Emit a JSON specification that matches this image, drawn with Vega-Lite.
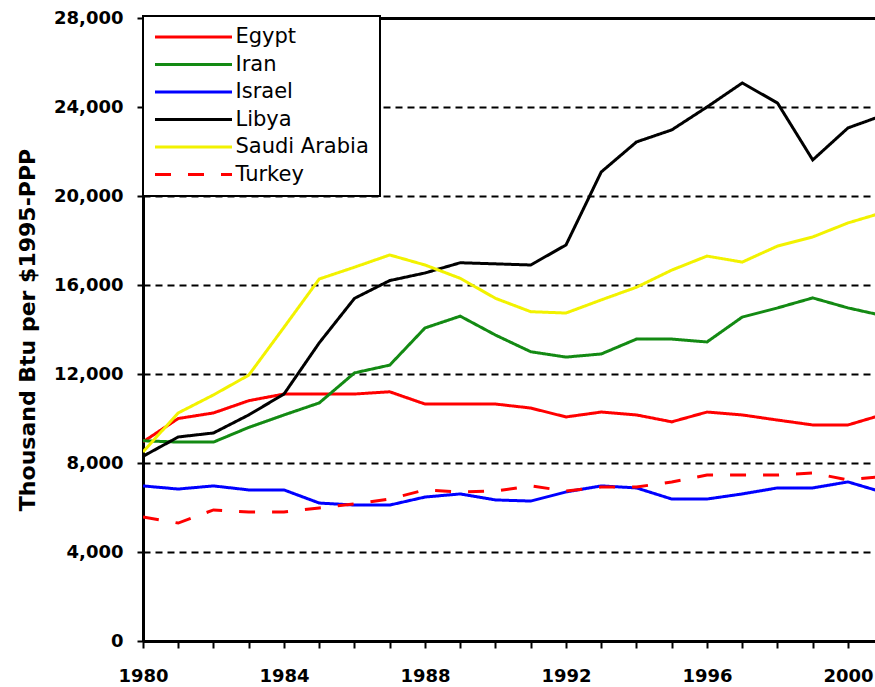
{
  "$schema": "https://vega.github.io/schema/vega-lite/v6.json",
  "autosize": {"type": "none"},
  "padding": {"left": 143, "top": 18, "right": 0, "bottom": 46},
  "width": 732,
  "height": 623,
  "background": "white",
  "config": {
    "view": {"stroke": null},
    "font": "DejaVu Sans"
  },
  "data": {
    "values": [
      {"year":1980,"country":"Egypt","value":8950},{"year":1981,"country":"Egypt","value":10000},{"year":1982,"country":"Egypt","value":10250},{"year":1983,"country":"Egypt","value":10800},{"year":1984,"country":"Egypt","value":11100},{"year":1985,"country":"Egypt","value":11100},{"year":1986,"country":"Egypt","value":11100},{"year":1987,"country":"Egypt","value":11200},{"year":1988,"country":"Egypt","value":10650},{"year":1989,"country":"Egypt","value":10650},{"year":1990,"country":"Egypt","value":10650},{"year":1991,"country":"Egypt","value":10470},{"year":1992,"country":"Egypt","value":10070},{"year":1993,"country":"Egypt","value":10290},{"year":1994,"country":"Egypt","value":10160},{"year":1995,"country":"Egypt","value":9850},{"year":1996,"country":"Egypt","value":10290},{"year":1997,"country":"Egypt","value":10160},{"year":1998,"country":"Egypt","value":9930},{"year":1999,"country":"Egypt","value":9710},{"year":2000,"country":"Egypt","value":9710},{"year":2001,"country":"Egypt","value":10180},
      {"year":1980,"country":"Iran","value":9000},{"year":1981,"country":"Iran","value":8940},{"year":1982,"country":"Iran","value":8940},{"year":1983,"country":"Iran","value":9600},{"year":1984,"country":"Iran","value":10160},{"year":1985,"country":"Iran","value":10700},{"year":1986,"country":"Iran","value":12050},{"year":1987,"country":"Iran","value":12400},{"year":1988,"country":"Iran","value":14070},{"year":1989,"country":"Iran","value":14600},{"year":1990,"country":"Iran","value":13750},{"year":1991,"country":"Iran","value":13000},{"year":1992,"country":"Iran","value":12760},{"year":1993,"country":"Iran","value":12900},{"year":1994,"country":"Iran","value":13570},{"year":1995,"country":"Iran","value":13570},{"year":1996,"country":"Iran","value":13440},{"year":1997,"country":"Iran","value":14560},{"year":1998,"country":"Iran","value":14970},{"year":1999,"country":"Iran","value":15420},{"year":2000,"country":"Iran","value":14970},{"year":2001,"country":"Iran","value":14620},
      {"year":1980,"country":"Israel","value":6970},{"year":1981,"country":"Israel","value":6830},{"year":1982,"country":"Israel","value":6970},{"year":1983,"country":"Israel","value":6790},{"year":1984,"country":"Israel","value":6790},{"year":1985,"country":"Israel","value":6200},{"year":1986,"country":"Israel","value":6110},{"year":1987,"country":"Israel","value":6110},{"year":1988,"country":"Israel","value":6470},{"year":1989,"country":"Israel","value":6610},{"year":1990,"country":"Israel","value":6340},{"year":1991,"country":"Israel","value":6290},{"year":1992,"country":"Israel","value":6700},{"year":1993,"country":"Israel","value":6970},{"year":1994,"country":"Israel","value":6880},{"year":1995,"country":"Israel","value":6380},{"year":1996,"country":"Israel","value":6380},{"year":1997,"country":"Israel","value":6610},{"year":1998,"country":"Israel","value":6880},{"year":1999,"country":"Israel","value":6880},{"year":2000,"country":"Israel","value":7150},{"year":2001,"country":"Israel","value":6680},
      {"year":1980,"country":"Libya","value":8300},{"year":1981,"country":"Libya","value":9170},{"year":1982,"country":"Libya","value":9350},{"year":1983,"country":"Libya","value":10160},{"year":1984,"country":"Libya","value":11100},{"year":1985,"country":"Libya","value":13400},{"year":1986,"country":"Libya","value":15400},{"year":1987,"country":"Libya","value":16200},{"year":1988,"country":"Libya","value":16540},{"year":1989,"country":"Libya","value":17000},{"year":1990,"country":"Libya","value":16950},{"year":1991,"country":"Libya","value":16900},{"year":1992,"country":"Libya","value":17800},{"year":1993,"country":"Libya","value":21080},{"year":1994,"country":"Libya","value":22430},{"year":1995,"country":"Libya","value":22970},{"year":1996,"country":"Libya","value":24000},{"year":1997,"country":"Libya","value":25080},{"year":1998,"country":"Libya","value":24180},{"year":1999,"country":"Libya","value":21620},{"year":2000,"country":"Libya","value":23060},{"year":2001,"country":"Libya","value":23630},
      {"year":1980,"country":"Saudi Arabia","value":8500},{"year":1981,"country":"Saudi Arabia","value":10250},{"year":1982,"country":"Saudi Arabia","value":11060},{"year":1983,"country":"Saudi Arabia","value":11950},{"year":1984,"country":"Saudi Arabia","value":14100},{"year":1985,"country":"Saudi Arabia","value":16270},{"year":1986,"country":"Saudi Arabia","value":16800},{"year":1987,"country":"Saudi Arabia","value":17350},{"year":1988,"country":"Saudi Arabia","value":16900},{"year":1989,"country":"Saudi Arabia","value":16300},{"year":1990,"country":"Saudi Arabia","value":15400},{"year":1991,"country":"Saudi Arabia","value":14800},{"year":1992,"country":"Saudi Arabia","value":14740},{"year":1993,"country":"Saudi Arabia","value":15330},{"year":1994,"country":"Saudi Arabia","value":15900},{"year":1995,"country":"Saudi Arabia","value":16670},{"year":1996,"country":"Saudi Arabia","value":17300},{"year":1997,"country":"Saudi Arabia","value":17030},{"year":1998,"country":"Saudi Arabia","value":17750},{"year":1999,"country":"Saudi Arabia","value":18160},{"year":2000,"country":"Saudi Arabia","value":18790},{"year":2001,"country":"Saudi Arabia","value":19260},
      {"year":1980,"country":"Turkey","value":5570},{"year":1981,"country":"Turkey","value":5300},{"year":1982,"country":"Turkey","value":5890},{"year":1983,"country":"Turkey","value":5800},{"year":1984,"country":"Turkey","value":5800},{"year":1985,"country":"Turkey","value":5980},{"year":1986,"country":"Turkey","value":6160},{"year":1987,"country":"Turkey","value":6380},{"year":1988,"country":"Turkey","value":6790},{"year":1989,"country":"Turkey","value":6700},{"year":1990,"country":"Turkey","value":6740},{"year":1991,"country":"Turkey","value":6970},{"year":1992,"country":"Turkey","value":6740},{"year":1993,"country":"Turkey","value":6920},{"year":1994,"country":"Turkey","value":6920},{"year":1995,"country":"Turkey","value":7150},{"year":1996,"country":"Turkey","value":7460},{"year":1997,"country":"Turkey","value":7460},{"year":1998,"country":"Turkey","value":7460},{"year":1999,"country":"Turkey","value":7550},{"year":2000,"country":"Turkey","value":7240},{"year":2001,"country":"Turkey","value":7400}
    ]
  },
  "mark": {"type": "line", "strokeWidth": 3, "clip": true},
  "encoding": {
    "x": {
      "field": "year", "type": "quantitative",
      "scale": {"domain": [1980, 2000.766], "nice": false, "zero": false},
      "axis": {
        "title": null,
        "values": [1980,1981,1982,1983,1984,1985,1986,1987,1988,1989,1990,1991,1992,1993,1994,1995,1996,1997,1998,1999,2000],
        "labelExpr": "datum.value % 4 === 0 ? datum.value : ''",
        "labelOverlap": false,
        "labelFlush": false,
        "labelFont": "DejaVu Sans", "labelFontWeight": "bold", "labelFontSize": 18, "labelColor": "black",
        "labelPadding": 19,
        "tickSize": 7, "tickWidth": 2, "tickColor": "black",
        "domainColor": "black", "domainWidth": 3,
        "grid": false
      }
    },
    "y": {
      "field": "value", "type": "quantitative",
      "scale": {"domain": [0, 28000], "nice": false},
      "axis": {
        "title": "Thousand Btu per $1995-PPP",
        "titleFont": "DejaVu Sans", "titleFontWeight": "bold", "titleFontSize": 22, "titleColor": "black",
        "titlePadding": 14,
        "values": [0,4000,8000,12000,16000,20000,24000,28000],
        "format": ",d",
        "labelFont": "DejaVu Sans", "labelFontWeight": "bold", "labelFontSize": 18, "labelColor": "black",
        "labelPadding": 14,
        "tickSize": 6, "tickWidth": 2, "tickColor": "black",
        "domainColor": "black", "domainWidth": 3,
        "grid": true,
        "gridColor": "black",
        "gridDash": {"condition": {"test": "datum.value === 28000", "value": []}, "value": [7, 5]},
        "gridWidth": {"condition": {"test": "datum.value === 28000", "value": 3}, "value": 2}
      }
    },
    "color": {
      "field": "country", "type": "nominal",
      "scale": {
        "domain": ["Egypt","Iran","Israel","Libya","Saudi Arabia","Turkey"],
        "range": ["#ff0000","#138a13","#0000ff","#000000","#f2f200","#ff0000"]
      },
      "legend": {
        "title": null,
        "orient": "none",
        "legendX": 0,
        "legendY": -2,
        "symbolType": "stroke",
        "symbolSize": 5929,
        "symbolStrokeWidth": 3,
        "clipHeight": 21,
        "rowPadding": 5.5,
        "padding": 10.5,
        "labelOffset": 2,
        "labelFont": "DejaVu Sans", "labelFontSize": 21, "labelColor": "black",
        "labelLimit": 300,
        "strokeColor": "black",
        "fillColor": "white",
        "encode": {"legend": {"update": {"strokeWidth": {"value": 2}}}}
      }
    },
    "strokeDash": {
      "field": "country", "type": "nominal",
      "scale": {
        "domain": ["Egypt","Iran","Israel","Libya","Saudi Arabia","Turkey"],
        "range": [[1,0],[1,0],[1,0],[1,0],[1,0],[16,17]]
      },
      "legend": null
    }
  }
}
